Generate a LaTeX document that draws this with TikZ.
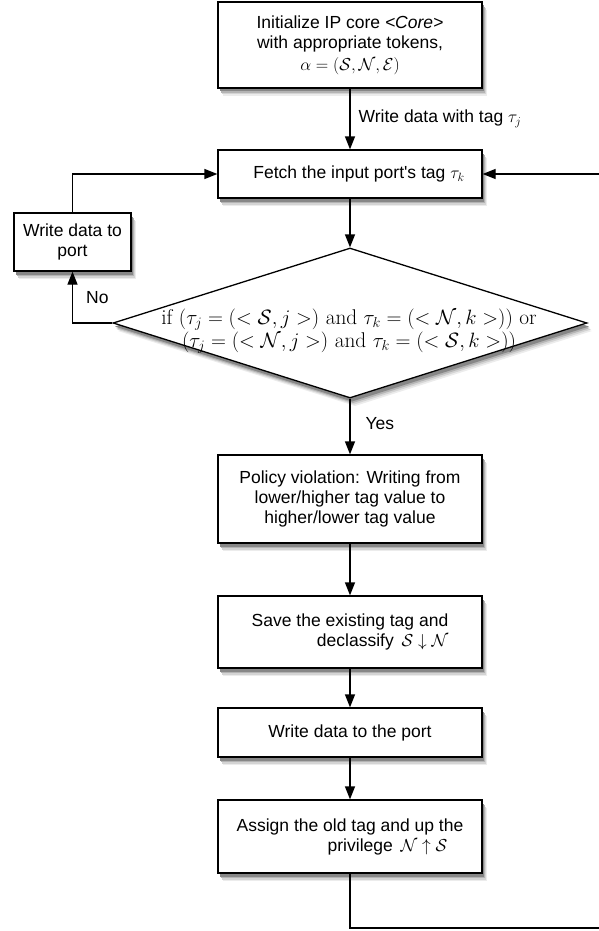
\documentclass[tikz,border=0pt]{standalone}
\usepackage{fontspec}
\newfontfamily\helv{Liberation Sans}
\usetikzlibrary{shapes.geometric,arrows.meta}
\definecolor{shA}{RGB}{236,236,236}
\definecolor{shB}{RGB}{212,212,212}
\definecolor{shC}{RGB}{180,180,180}
\definecolor{shD}{RGB}{135,135,135}
\newcommand\shbox[4]{% cx cy w h
  \fill[shA] (#1-#3/2+5,#2-#4/2+8) rectangle (#1+#3/2+5,#2+#4/2+8);
  \fill[shB] (#1-#3/2+4,#2-#4/2+6.5) rectangle (#1+#3/2+4,#2+#4/2+6.5);
  \fill[shC] (#1-#3/2+3,#2-#4/2+5) rectangle (#1+#3/2+3,#2+#4/2+5);
  \fill[shD] (#1-#3/2+2,#2-#4/2+3.5) rectangle (#1+#3/2+2,#2+#4/2+3.5);}
\newcommand\shdia[4]{% cx cy w h
  \fill[shA] (#1+5,#2-#4/2+8) -- (#1+#3/2+5,#2+8) -- (#1+5,#2+#4/2+8) -- (#1-#3/2+5,#2+8) -- cycle;
  \fill[shB] (#1+4,#2-#4/2+6.5) -- (#1+#3/2+4,#2+6.5) -- (#1+4,#2+#4/2+6.5) -- (#1-#3/2+4,#2+6.5) -- cycle;
  \fill[shC] (#1+3,#2-#4/2+5) -- (#1+#3/2+3,#2+5) -- (#1+3,#2+#4/2+5) -- (#1-#3/2+3,#2+5) -- cycle;
  \fill[shD] (#1+2,#2-#4/2+3.5) -- (#1+#3/2+2,#2+3.5) -- (#1+2,#2+#4/2+3.5) -- (#1-#3/2+2,#2+3.5) -- cycle;}
\begin{document}
\begin{tikzpicture}[x=1pt,y=-1pt,
  box/.style={draw,line width=1.3pt,fill=white,minimum width=264pt,inner sep=0pt,align=center,
    font=\fontsize{17.5}{20}\selectfont\helv},
  lbl/.style={font=\fontsize{17.5}{20}\selectfont\helv,inner sep=0pt},
  dtext/.style={font=\fontsize{21.3}{19.5}\selectfont,align=center,inner sep=0pt},
  conn/.style={line width=1.3pt},
  arr/.style={conn,-{Triangle[length=13pt,width=10pt]}},
  ]
\useasboundingbox (0,0) rectangle (599,931);
% shadows
\shbox{350}{45}{264}{86}
\shbox{350}{174}{264}{48}
\shbox{72.5}{242}{117}{58}
\shdia{350}{323}{474}{150}
\shbox{350}{499}{264}{88}
\shbox{350}{632}{264}{72}
\shbox{350}{732.5}{264}{49}
\shbox{350}{836.5}{264}{73}
% nodes
\node[box,minimum height=86pt] (init) at (350,45) {Initialize IP core \textit{<Core>}\\with appropriate tokens,\\[2pt] $\alpha=(\mathcal{S},\mathcal{N},\mathcal{E})$};
\node[box,minimum height=48pt] (fetch) at (350,174) {\hspace*{18pt}Fetch the input port's tag $\tau_k$};
\node[box,minimum width=117pt,minimum height=58pt] (wport) at (72.5,242) {Write data to\\port};
\node[draw,line width=1.3pt,fill=white,diamond,aspect=3.16,minimum width=474pt,minimum height=150pt,inner sep=0pt] (dia) at (350,323) {};
\node[dtext] (diatext) at (349,331) {if $(\tau_j=(<\mathcal{S},j>)$ and $\tau_k=(<\mathcal{N},k>))$ or\\$(\tau_j=(<\mathcal{N},j>)$ and $\tau_k=(<\mathcal{S},k>))$};
\node[box,minimum height=88pt] (policy) at (350,499) {Policy violation: Writing from\\lower/higher tag value to\\higher/lower tag value};
\node[box,minimum height=72pt,align=right] (save) at (350,632) {Save the existing tag and\\declassify\, $\mathcal{S}\downarrow\mathcal{N}$};
\node[box,minimum height=49pt] (wdata) at (350,732.5) {Write data to the port};
\node[box,minimum height=73pt,align=right] (assign) at (350,836.5) {Assign the old tag and up the\\privilege\, $\mathcal{N}\uparrow\mathcal{S}$\hspace*{16pt}};
\coordinate (b1) at (350,928);
\coordinate (b2) at (602,928);
\coordinate (b3) at (602,174);
\draw[arr] (init) -- (fetch) node[lbl,pos=0.5,anchor=west,xshift=8pt] (lw) {Write data with tag $\tau_j$};
\draw[arr] (fetch) -- (dia.north);
\draw[arr] (dia.west) -| (wport.south) node[lbl,pos=0.75,anchor=west,xshift=13pt] (lno) {No};
\draw[arr] (wport.north) |- (fetch.west);
\draw[arr] (dia.south) -- (policy.north) node[lbl,pos=0.45,anchor=west,xshift=15pt] (lyes) {Yes};
\draw[arr] (policy) -- (save);
\draw[arr] (save) -- (wdata);
\draw[arr] (wdata) -- (assign);
\draw[arr] (assign.south) -- (b1) -- (b2) -- (b3) -- (fetch.east);
\end{tikzpicture}
\end{document}
